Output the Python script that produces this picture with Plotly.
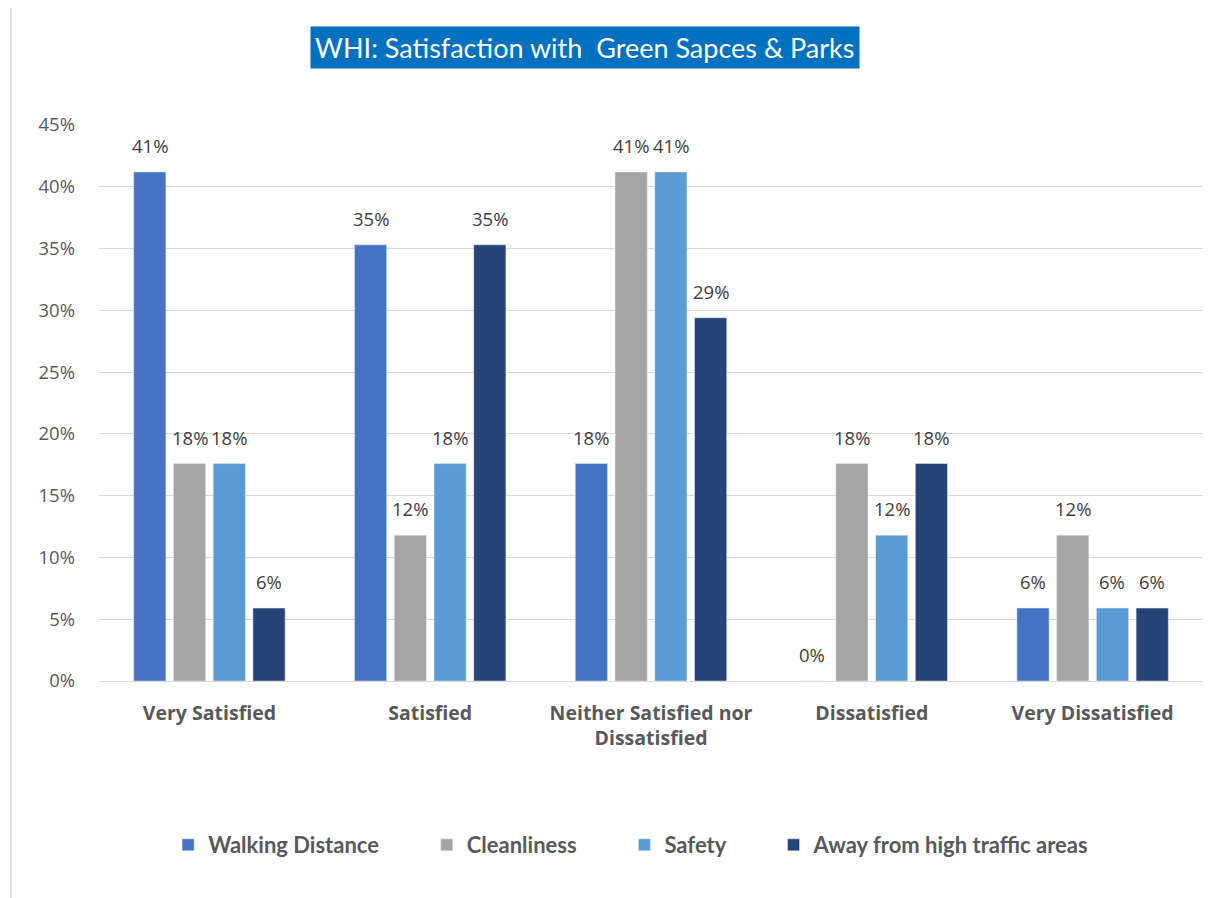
import plotly.graph_objects as go

categories = ["Very Satisfied", "Satisfied", "Neither Satisfied nor<br>Dissatisfied", "Dissatisfied", "Very Dissatisfied"]
walking = [0.412, 0.353, 0.176, 0.0, 0.059]
cleanliness = [0.176, 0.118, 0.412, 0.176, 0.118]
safety = [0.176, 0.176, 0.412, 0.118, 0.059]
away = [0.059, 0.353, 0.294, 0.176, 0.059]
series_names = ["Walking Distance", "Cleanliness", "Safety", "Away from high traffic areas"]
colors = ["#4472C4", "#A5A5A5", "#5B9BD5", "#264478"]
y_ticks = [0, 0.05, 0.10, 0.15, 0.20, 0.25, 0.30, 0.35, 0.40, 0.45]

TFONT = "Lato, 'Open Sans', sans-serif"
AFONT = "'Open Sans', Lato, sans-serif"
NB = "\u00a0"
legend_pad = [8, 8, 8, 0]

fig = go.Figure()
all_vals = [walking, cleanliness, safety, away]
for i, (name, vals, col) in enumerate(zip(series_names, all_vals, colors)):
    fig.add_trace(go.Bar(
        x=categories, y=vals, name=name + NB * legend_pad[i], marker_color=col,
        cliponaxis=False,
    ))

# data labels placed above each bar
pitch = 39.7
for i, vals in enumerate(all_vals):
    for cat, v in zip(categories, vals):
        fig.add_annotation(
            x=cat, y=v, xref="x", yref="y", text=f"{round(v*100):.0f}%",
            showarrow=False, xanchor="center", yanchor="bottom",
            xshift=(i - 1.5) * pitch, yshift=12,
            font=dict(size=18.5, color="#404040", family=AFONT),
        )

fig.update_layout(
    width=1219, height=890,
    margin=dict(l=91, r=24, t=117, b=217),
    paper_bgcolor="white", plot_bgcolor="white",
    barmode="group", bargap=0.28, bargroupgap=0.19,
    font=dict(family=AFONT, color="#595959"),
    showlegend=True,
    legend=dict(orientation="h", x=0.482, xanchor="center", y=-0.295, yanchor="middle",
                font=dict(size=22, color="#595959", family=TFONT, weight="bold"),
                traceorder="normal", itemwidth=30),
)
fig.update_yaxes(range=[0, 0.45], tickvals=y_ticks, tickformat=".0%",
                 showgrid=True, gridcolor="#D9D9D9", gridwidth=1,
                 zeroline=True, zerolinecolor="#D9D9D9", zerolinewidth=1,
                 showline=False, tickfont=dict(size=18.5, color="#595959", family=AFONT),
                 ticklabelstandoff=23)
fig.update_xaxes(showline=False, tickfont=dict(size=19.5, color="#595959", weight="bold", family=AFONT),
                 ticklabelstandoff=18)

fig.add_annotation(
    xref="paper", yref="paper", x=0.440, y=1.140, xanchor="center", yanchor="middle",
    text="WHI: Satisfaction with  Green Sapces & Parks", showarrow=False,
    font=dict(size=27, color="white", family=TFONT),
    bgcolor="#0070C0", borderpad=4,
)

# chart border (left and top visible)
fig.add_shape(type="line", xref="paper", yref="paper", x0=-0.0797, x1=-0.0797, y0=1.212, y1=-0.40,
              line=dict(color="#D9D9D9", width=1.5))
fig.add_shape(type="line", xref="paper", yref="paper", x0=-0.0797, x1=1.03, y0=1.212, y1=1.212,
              line=dict(color="#D9D9D9", width=1.5))

fig.write_html("out.html")
